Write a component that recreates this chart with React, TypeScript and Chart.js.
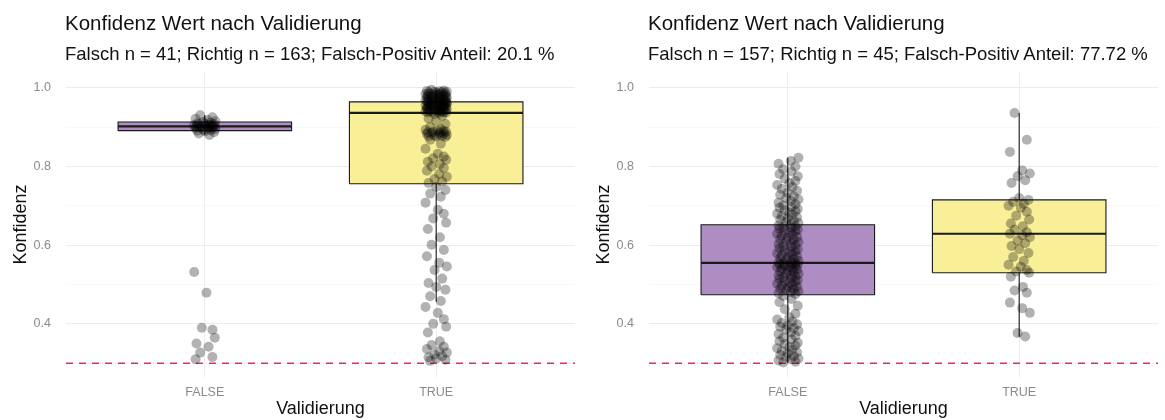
import React, { useEffect, useRef } from 'react';
import { Chart, registerables } from 'chart.js';

Chart.register(...registerables);

const CATEGORIES = ['FALSE', 'TRUE'];
const Y_MAJOR = [0.4, 0.6, 0.8, 1.0];
const Y_MINOR = [0.3, 0.5, 0.7, 0.9];
const THRESHOLD = 0.3;

const TITLE = 'Konfidenz Wert nach Validierung';
const LEFT_SUBTITLE = 'Falsch n = 41; Richtig n = 163; Falsch-Positiv Anteil: 20.1 %';
const RIGHT_SUBTITLE = 'Falsch n = 157; Richtig n = 45; Falsch-Positiv Anteil: 77.72 %';
const X_TITLE = 'Validierung';
const Y_TITLE = 'Konfidenz';

// box stats: [whiskerLow, q1, median, q3, whiskerHigh]
const LEFT_STATS_FALSE = [0.88, 0.891, 0.902, 0.913, 0.93];
const LEFT_STATS_TRUE = [0.456, 0.756, 0.936, 0.964, 0.995];
const RIGHT_STATS_FALSE = [0.301, 0.474, 0.555, 0.652, 0.822];
const RIGHT_STATS_TRUE = [0.367, 0.53, 0.629, 0.715, 0.936];

const LEFT_FALSE = [
  0.930, 0.925, 0.921, 0.918, 0.915, 0.913, 0.911, 0.910, 0.909, 0.908, 0.907, 0.906, 0.905, 0.904, 0.903, 0.902,
  0.902, 0.901, 0.900, 0.899, 0.898, 0.897, 0.896, 0.895, 0.894, 0.892, 0.891, 0.889, 0.887, 0.884, 0.880,
  0.532, 0.479, 0.385, 0.390, 0.365, 0.350, 0.342, 0.327, 0.316, 0.310,
];

const LEFT_TRUE = [
  0.995, 0.993, 0.992, 0.991, 0.990, 0.990, 0.989, 0.988, 0.987, 0.986, 0.985, 0.985, 0.984, 0.983, 0.982, 0.981,
  0.980, 0.980, 0.979, 0.978, 0.978, 0.977, 0.976, 0.975, 0.975, 0.974, 0.973, 0.972, 0.971, 0.970, 0.970, 0.969,
  0.968, 0.967, 0.967, 0.966, 0.966, 0.965, 0.965, 0.964, 0.964,
  0.963, 0.962, 0.962, 0.961, 0.960, 0.959, 0.958, 0.957, 0.956, 0.955, 0.955, 0.954, 0.953, 0.952, 0.951, 0.950,
  0.950, 0.949, 0.948, 0.947, 0.946, 0.945, 0.945, 0.944, 0.943, 0.942, 0.941, 0.940, 0.940, 0.939, 0.938, 0.938,
  0.937, 0.937, 0.936, 0.958, 0.953, 0.947, 0.943, 0.960,
  0.933, 0.928, 0.922, 0.915, 0.908, 0.900, 0.895, 0.893, 0.891, 0.890, 0.889, 0.888, 0.887, 0.886, 0.885, 0.884,
  0.883, 0.882, 0.880, 0.879, 0.878, 0.877, 0.876, 0.875, 0.868, 0.858, 0.845, 0.832, 0.825, 0.821, 0.817, 0.812,
  0.806, 0.800, 0.796, 0.789, 0.781, 0.774, 0.768, 0.762, 0.758,
  0.748, 0.740, 0.731, 0.723, 0.708, 0.690, 0.680, 0.668, 0.657, 0.641, 0.620, 0.601, 0.588, 0.572, 0.555, 0.546,
  0.537, 0.515, 0.504, 0.494, 0.487, 0.470, 0.458, 0.443, 0.428, 0.412, 0.400, 0.393, 0.378, 0.356, 0.346, 0.342,
  0.336, 0.331, 0.327, 0.322, 0.318, 0.315, 0.312, 0.309, 0.306,
];

const RIGHT_FALSE = [
  0.302, 0.304, 0.307, 0.310, 0.312, 0.315, 0.318, 0.321, 0.325, 0.328, 0.331, 0.334, 0.338, 0.341, 0.345, 0.349,
  0.352, 0.356, 0.361, 0.365, 0.369, 0.374, 0.378, 0.382, 0.386, 0.389, 0.393, 0.396, 0.399, 0.402, 0.406, 0.411,
  0.417, 0.426, 0.437, 0.446, 0.455, 0.463, 0.471,
  0.476, 0.478, 0.481, 0.483, 0.486, 0.488, 0.490, 0.493, 0.495, 0.497, 0.500, 0.502, 0.505, 0.507, 0.509, 0.511,
  0.514, 0.516, 0.518, 0.521, 0.523, 0.525, 0.527, 0.529, 0.532, 0.534, 0.536, 0.538, 0.540, 0.542, 0.544, 0.545,
  0.547, 0.548, 0.550, 0.551, 0.552, 0.553, 0.554,
  0.556, 0.558, 0.560, 0.562, 0.565, 0.567, 0.569, 0.572, 0.574, 0.577, 0.579, 0.582, 0.584, 0.587, 0.589, 0.592,
  0.595, 0.597, 0.600, 0.603, 0.605, 0.608, 0.611, 0.613, 0.616, 0.619, 0.621, 0.624, 0.627, 0.629, 0.632, 0.635,
  0.637, 0.640, 0.642, 0.644, 0.646, 0.648, 0.650,
  0.653, 0.656, 0.659, 0.662, 0.665, 0.668, 0.671, 0.674, 0.677, 0.680, 0.683, 0.686, 0.689, 0.692, 0.695, 0.698,
  0.701, 0.704, 0.708, 0.712, 0.716, 0.720, 0.724, 0.728, 0.733, 0.738, 0.743, 0.748, 0.753, 0.758, 0.763, 0.769,
  0.775, 0.781, 0.787, 0.793, 0.800, 0.807, 0.814, 0.822,
];

const RIGHT_TRUE = [
  0.936, 0.868, 0.837, 0.790, 0.782, 0.775, 0.765, 0.758, 0.720, 0.715, 0.710, 0.705, 0.700, 0.695, 0.685, 0.675,
  0.665, 0.655, 0.648, 0.640, 0.633, 0.629, 0.625, 0.620, 0.612, 0.605, 0.598, 0.590, 0.580, 0.570, 0.560, 0.550,
  0.545, 0.537, 0.533, 0.530, 0.520, 0.494, 0.485, 0.479, 0.454, 0.440, 0.428, 0.377, 0.368,
];

// horizontal jitter offsets (category units), cycled over points
const JITTER = [-0.02, 0.033, -0.04, 0.013, 0.046, -0.007, 0.026, -0.033, 0.0, 0.04, -0.026, 0.02, -0.046, 0.007, 0.033, -0.013, 0.043, -0.036, 0.016];

const FILL_COLORS = ['#AE8DC2', '#F9EF97'];
const BOX_HALF = 0.375;
const FONT = "'Liberation Sans', Arial, Helvetica, sans-serif";

function buildDatasets(valsList: number[][], statsList: number[][]) {
  const ds: any[] = [];
  valsList.forEach((vals, c) => {
    ds.push({
      type: 'scatter',
      data: vals.map((v, i) => ({ x: c + JITTER[i % JITTER.length], y: v })),
      pointRadius: 5,
      pointBackgroundColor: 'rgba(0,0,0,0.3)',
      pointBorderWidth: 0,
      order: 0,
    });
  });
  statsList.forEach((s, c) => {
    const [lo, q1, med, q3, hi] = s;
    ds.push({
      type: 'line',
      data: [{ x: c - BOX_HALF, y: med }, { x: c + BOX_HALF, y: med }],
      borderColor: '#1a1a1a',
      borderWidth: 2.2,
      pointRadius: 0,
      fill: false,
      order: 1,
    });
    ds.push({
      type: 'line',
      data: [
        { x: c - BOX_HALF, y: q1 },
        { x: c + BOX_HALF, y: q1 },
        { x: c + BOX_HALF, y: q3 },
        { x: c - BOX_HALF, y: q3 },
        { x: c - BOX_HALF, y: q1 },
      ],
      borderColor: '#1a1a1a',
      borderWidth: 1.1,
      backgroundColor: FILL_COLORS[c],
      pointRadius: 0,
      fill: 'shape',
      tension: 0,
      order: 2,
    });
    ds.push({
      type: 'line',
      data: [{ x: c, y: lo }, { x: c, y: q1 }],
      borderColor: '#1a1a1a',
      borderWidth: 1.1,
      pointRadius: 0,
      fill: false,
      order: 3,
    });
    ds.push({
      type: 'line',
      data: [{ x: c, y: q3 }, { x: c, y: hi }],
      borderColor: '#1a1a1a',
      borderWidth: 1.1,
      pointRadius: 0,
      fill: false,
      order: 3,
    });
  });
  ds.push({
    type: 'line',
    data: [{ x: -0.6, y: THRESHOLD }, { x: 1.6, y: THRESHOLD }],
    borderColor: '#FA2652',
    borderWidth: 1.5,
    borderDash: [7, 6],
    pointRadius: 0,
    fill: false,
    order: 4,
  });
  return ds;
}

function Panel(props: { left: number; subtitle: string; vals: number[][]; stats: number[][] }) {
  const ref = useRef<HTMLCanvasElement | null>(null);
  useEffect(() => {
    if (!ref.current) return;
    const chart = new Chart(ref.current, {
      type: 'scatter',
      data: { datasets: buildDatasets(props.vals, props.stats) },
      options: {
        animation: false,
        responsive: false,
        events: [],
        layout: { padding: { top: 72, right: 4, left: 0, bottom: 0 } },
        plugins: { legend: { display: false }, tooltip: { enabled: false }, title: { display: false } },
        scales: {
          x: {
            type: 'linear',
            min: -0.6,
            max: 1.6,
            border: { display: false },
            afterBuildTicks: (axis: any) => {
              axis.ticks = CATEGORIES.map((_, i) => ({ value: i }));
            },
            afterFit: (axis: any) => {
              axis.height = 43;
            },
            grid: { color: '#ededed', lineWidth: 1, drawTicks: false },
            ticks: {
              padding: 8,
              maxRotation: 0,
              color: '#8a8a8a',
              font: { family: FONT, size: 12.5 },
              callback: (v: any) => CATEGORIES[Math.round(Number(v))] ?? '',
            },
            title: {
              display: true,
              text: X_TITLE,
              color: '#111',
              font: { family: FONT, size: 18 },
              padding: { top: 0, bottom: 0 },
            },
          },
          y: {
            type: 'linear',
            min: 0.265,
            max: 1.04,
            border: { display: false },
            afterBuildTicks: (axis: any) => {
              axis.ticks = [...Y_MINOR, ...Y_MAJOR].sort((a, b) => a - b).map((v) => ({ value: v }));
            },
            afterFit: (axis: any) => {
              axis.width = 66;
            },
            grid: {
              drawTicks: false,
              color: (ctx: any) => (Y_MAJOR.some((m) => Math.abs(m - ctx.tick.value) < 1e-6) ? '#ececec' : '#f5f5f5'),
              lineWidth: (ctx: any) => (Y_MAJOR.some((m) => Math.abs(m - ctx.tick.value) < 1e-6) ? 1 : 0.6),
            },
            ticks: {
              padding: 15,
              color: '#8a8a8a',
              font: { family: FONT, size: 12.5 },
              callback: (v: any) => (Y_MAJOR.some((m) => Math.abs(m - Number(v)) < 1e-6) ? Number(v).toFixed(1) : ''),
            },
            title: {
              display: true,
              text: Y_TITLE,
              color: '#111',
              font: { family: FONT, size: 18 },
              padding: { top: 10, bottom: 0 },
            },
          },
        },
      } as any,
    });
    return () => chart.destroy();
  }, []);

  return (
    <div style={{ position: 'absolute', left: props.left, top: 0, width: 580, height: 420 }}>
      <canvas ref={ref} width={580} height={420} style={{ width: 580, height: 420, display: 'block' }} />
      <div
        style={{
          position: 'absolute', left: 65, top: 13, fontFamily: FONT, fontSize: 20.5, lineHeight: '20.5px',
          color: '#111', whiteSpace: 'nowrap',
        }}
      >
        {TITLE}
      </div>
      <div
        style={{
          position: 'absolute', left: 65, top: 45, fontFamily: FONT, fontSize: 18.5, lineHeight: '18.5px',
          color: '#111', whiteSpace: 'nowrap',
        }}
      >
        {props.subtitle}
      </div>
    </div>
  );
}

export default function App() {
  return (
    <div style={{ position: 'fixed', left: 0, top: 0, width: 1165, height: 420, background: '#fff', overflow: 'hidden' }}>
      <Panel left={0} subtitle={LEFT_SUBTITLE} vals={[LEFT_FALSE, LEFT_TRUE]} stats={[LEFT_STATS_FALSE, LEFT_STATS_TRUE]} />
      <Panel left={583} subtitle={RIGHT_SUBTITLE} vals={[RIGHT_FALSE, RIGHT_TRUE]} stats={[RIGHT_STATS_FALSE, RIGHT_STATS_TRUE]} />
    </div>
  );
}
